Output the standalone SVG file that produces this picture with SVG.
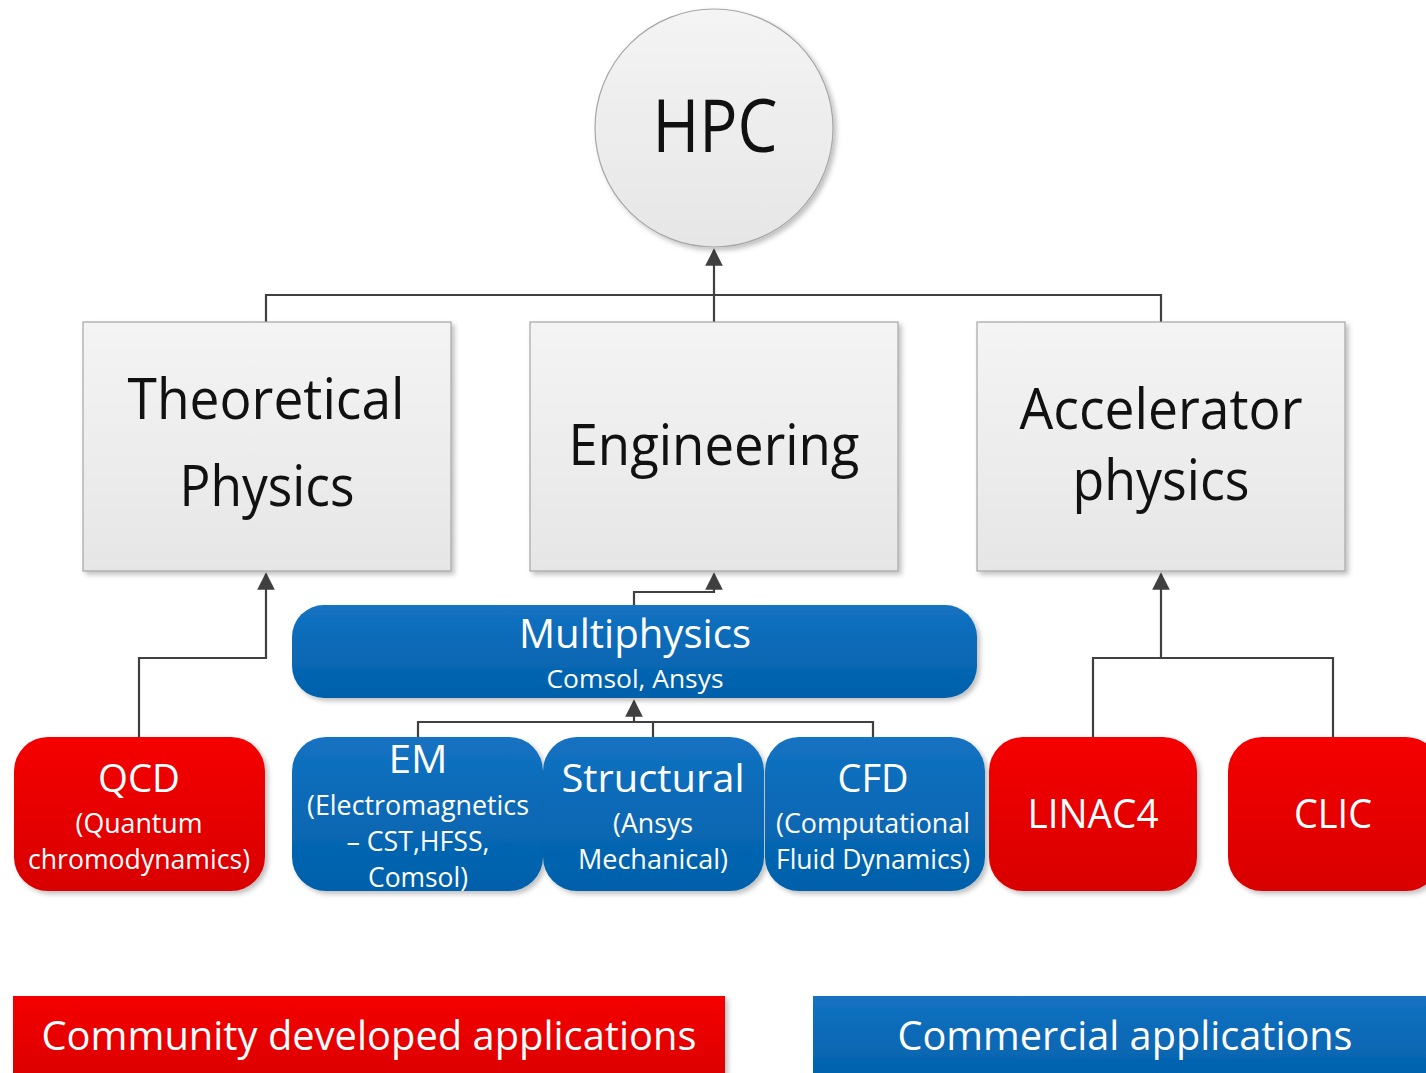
<svg xmlns="http://www.w3.org/2000/svg" width="1426" height="1073" viewBox="0 0 1426 1073">
<defs>
<linearGradient id="gGray" x1="0" y1="0" x2="0" y2="1"><stop offset="0" stop-color="#f4f4f4"/><stop offset="1" stop-color="#e6e6e6"/></linearGradient>
<linearGradient id="gRed" x1="0" y1="0" x2="0" y2="1"><stop offset="0" stop-color="#f50000"/><stop offset="1" stop-color="#d80000"/></linearGradient>
<linearGradient id="gBlue" x1="0" y1="0" x2="0" y2="1"><stop offset="0" stop-color="#1472c2"/><stop offset="1" stop-color="#0060aa"/></linearGradient>
<filter id="sh" x="-10%" y="-10%" width="130%" height="130%"><feDropShadow dx="3" dy="3" stdDeviation="2.5" flood-color="#000" flood-opacity="0.25"/></filter>
<marker id="arr" viewBox="0 0 10 10" refX="9" refY="5" markerWidth="7" markerHeight="7" markerUnits="userSpaceOnUse" orient="auto"><path d="M0,0 L10,5 L0,10 z" fill="#404040"/></marker>
<marker id="arr2" viewBox="0 0 10 10" refX="9" refY="5" markerWidth="8" markerHeight="8" orient="auto"><path d="M0,0 L10,5 L0,10 z" fill="#404040"/></marker>
</defs>
<style>
text{font-family:"Open Sans","Noto Sans","Liberation Sans",sans-serif;text-anchor:middle}
.dk{fill:#111}
.wt{fill:#fff}
.gray{fill:url(#gGray);stroke:#a6a6a6;stroke-width:1.2;filter:url(#sh)}
.red{fill:url(#gRed);filter:url(#sh)}
.blue{fill:url(#gBlue);filter:url(#sh)}
.con{fill:none;stroke:#404040;stroke-width:2.2}
</style>
<rect width="1426" height="1073" fill="#fff"/>

<g id="connectors">
<path class="con" d="M266,322 V295 H1161 V322"/>
<path class="con" d="M714,322 V250" marker-end="url(#arr2)"/>
<path class="con" d="M139,737 V658 H266 V574" marker-end="url(#arr2)"/>
<path class="con" d="M634,605 V592 H714 V574" marker-end="url(#arr2)"/>
<path class="con" d="M418,737 V722 H873 V737 M653,722 V737"/>
<path class="con" d="M634,722 V701" marker-end="url(#arr2)"/>
<path class="con" d="M1093,737 V658 H1333 V737"/>
<path class="con" d="M1161,658 V574" marker-end="url(#arr2)"/>
</g>

<g id="hpc">
<circle cx="714" cy="128" r="119" fill="url(#gGray)" stroke="#a6a6a6" stroke-width="1.2" filter="url(#sh)"/>
<text class="dk" x="715" y="152" font-size="74" textLength="125" lengthAdjust="spacingAndGlyphs">HPC</text>
</g>

<g id="theoretical">
<rect class="gray" x="83" y="322" width="368" height="249"/>
<text class="dk" x="266" y="419" font-size="56" textLength="277" lengthAdjust="spacingAndGlyphs">Theoretical</text>
<text class="dk" x="267" y="506" font-size="56" textLength="175" lengthAdjust="spacingAndGlyphs">Physics</text>
</g>

<g id="engineering">
<rect class="gray" x="530" y="322" width="368" height="249"/>
<text class="dk" x="714" y="465" font-size="56" textLength="291" lengthAdjust="spacingAndGlyphs">Engineering</text>
</g>

<g id="accelerator">
<rect class="gray" x="977" y="322" width="368" height="249"/>
<text class="dk" x="1161" y="429" font-size="56" textLength="283" lengthAdjust="spacingAndGlyphs">Accelerator</text>
<text class="dk" x="1161" y="500" font-size="56" textLength="177" lengthAdjust="spacingAndGlyphs">physics</text>
</g>

<g id="multiphysics">
<rect class="blue" x="292" y="605" width="685" height="93" rx="32"/>
<text class="wt" x="635" y="648" font-size="40" textLength="232" lengthAdjust="spacingAndGlyphs">Multiphysics</text>
<text class="wt" x="635" y="688" font-size="26" textLength="177" lengthAdjust="spacingAndGlyphs">Comsol, Ansys</text>
</g>

<g id="qcd">
<rect class="red" x="14" y="737" width="251" height="154" rx="34"/>
<text class="wt" x="139" y="792" font-size="38" textLength="82" lengthAdjust="spacingAndGlyphs">QCD</text>
<text class="wt" x="139" y="833" font-size="27" textLength="127" lengthAdjust="spacingAndGlyphs">(Quantum</text>
<text class="wt" x="139" y="869" font-size="27" textLength="222" lengthAdjust="spacingAndGlyphs">chromodynamics)</text>
</g>

<g id="em">
<rect class="blue" x="292" y="737" width="251" height="154" rx="34"/>
<text class="wt" x="418" y="773" font-size="38" textLength="59" lengthAdjust="spacingAndGlyphs">EM</text>
<text class="wt" x="418" y="815" font-size="27" textLength="222" lengthAdjust="spacingAndGlyphs">(Electromagnetics</text>
<text class="wt" x="418" y="851" font-size="27" textLength="143" lengthAdjust="spacingAndGlyphs">– CST,HFSS,</text>
<text class="wt" x="418" y="887" font-size="27" textLength="100" lengthAdjust="spacingAndGlyphs">Comsol)</text>
</g>

<g id="structural">
<rect class="blue" x="543" y="737" width="221" height="154" rx="34"/>
<text class="wt" x="653" y="792" font-size="38" textLength="183" lengthAdjust="spacingAndGlyphs">Structural</text>
<text class="wt" x="653" y="833" font-size="27" textLength="80" lengthAdjust="spacingAndGlyphs">(Ansys</text>
<text class="wt" x="653" y="869" font-size="27" textLength="150" lengthAdjust="spacingAndGlyphs">Mechanical)</text>
</g>

<g id="cfd">
<rect class="blue" x="765" y="737" width="220" height="154" rx="34"/>
<text class="wt" x="873" y="792" font-size="38" textLength="71" lengthAdjust="spacingAndGlyphs">CFD</text>
<text class="wt" x="873" y="833" font-size="27" textLength="194" lengthAdjust="spacingAndGlyphs">(Computational</text>
<text class="wt" x="873" y="869" font-size="27" textLength="194" lengthAdjust="spacingAndGlyphs">Fluid Dynamics)</text>
</g>

<g id="linac4">
<rect class="red" x="989" y="737" width="208" height="154" rx="34"/>
<text class="wt" x="1093" y="828" font-size="40" textLength="131" lengthAdjust="spacingAndGlyphs">LINAC4</text>
</g>

<g id="clic">
<rect class="red" x="1228" y="737" width="212" height="154" rx="34"/>
<text class="wt" x="1333" y="828" font-size="40" textLength="78" lengthAdjust="spacingAndGlyphs">CLIC</text>
</g>

<g id="legend-community">
<rect class="red" x="13" y="996" width="712" height="90"/>
<text class="wt" x="369" y="1050" font-size="40" textLength="655" lengthAdjust="spacingAndGlyphs">Community developed applications</text>
</g>

<g id="legend-commercial">
<rect class="blue" x="813" y="996" width="620" height="90"/>
<text class="wt" x="1125" y="1050" font-size="40" textLength="455" lengthAdjust="spacingAndGlyphs">Commercial applications</text>
</g>
</svg>
